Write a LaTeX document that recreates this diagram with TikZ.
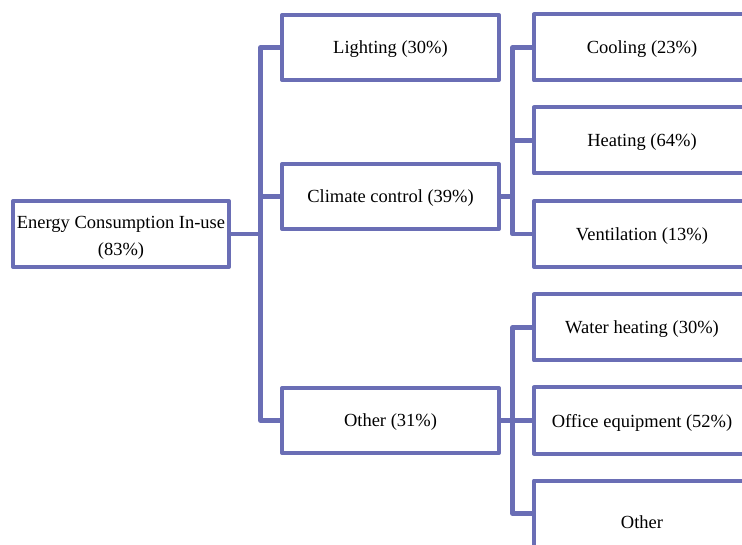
\documentclass[tikz,border=0pt]{standalone}
\usepackage{fontspec}
\setmainfont{Liberation Serif}
\definecolor{boxblue}{RGB}{106,110,181}
\tikzset{
  box/.style={draw=boxblue, line width=4pt, fill=white, rectangle, inner sep=0pt,
    line join=round, minimum width=217pt, minimum height=65pt, text depth=0pt,
    font=\fontsize{18.5}{27}\selectfont, align=center},
  wbox/.style={box, minimum width=216pt, minimum height=66pt},
  conn/.style={draw=boxblue, line width=4.5pt, line join=round}
}
\begin{document}
\begin{tikzpicture}[x=1pt,y=-1pt]
\clip (0,0) rectangle (742,545);
\fill[white] (0,0) rectangle (742,545);
\coordinate (b1) at (260.5,0);
\coordinate (b2) at (512.5,0);
% nodes
\node[box, minimum width=216pt, minimum height=66pt] (root) at (121,234) {\rule{0pt}{17pt}Energy Consumption In-use\\(83\%)};
\node[box] (lighting) at (390.5,47.5) {Lighting (30\%)};
\node[box] (climate) at (390.5,196.5) {Climate control (39\%)};
\node[box] (other) at (390.5,420.5) {Other (31\%)};
\node[wbox] (cooling) at (642,47.5) {Cooling (23\%)};
\node[wbox] (heating) at (642,140.5) {Heating (64\%)};
\node[wbox] (vent) at (642,234) {Ventilation (13\%)};
\node[wbox] (water) at (642,327.5) {Water heating (30\%)};
\node[wbox] (office) at (642,420.5) {Office equipment (52\%)};
\node[wbox] (other2) at (642,513.5) {\rule{0pt}{30pt}Other};
% connectors
\draw[conn] (root.east) -- (root.east -| b1);
\draw[conn] (lighting.west) -- (lighting.west -| b1) -- (other.west -| b1) -- (other.west);
\draw[conn] (climate.west) -- (climate.west -| b1);
\draw[conn] (climate.east) -- (climate.east -| b2);
\draw[conn] (cooling.west) -- (cooling.west -| b2) -- (vent.west -| b2) -- (vent.west);
\draw[conn] (heating.west) -- (heating.west -| b2);
\draw[conn] (water.west) -- (water.west -| b2) -- (other2.west -| b2) -- (other2.west);
\draw[conn] (other.east) -- (office.west);
\end{tikzpicture}
\end{document}
